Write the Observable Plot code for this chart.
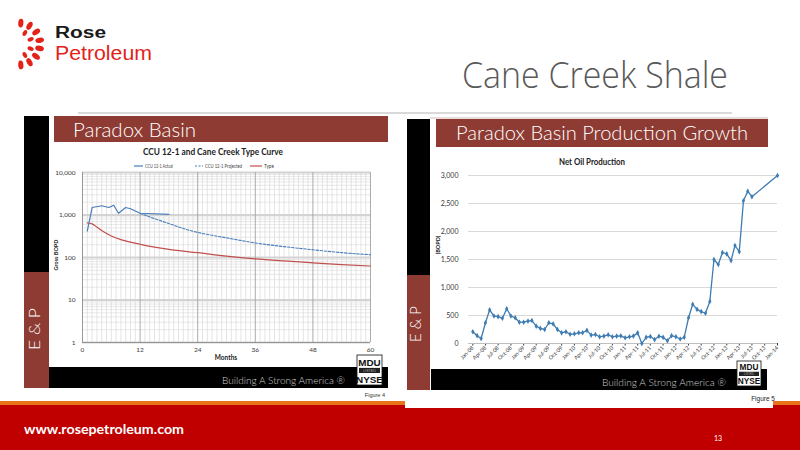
<!DOCTYPE html>
<html>
<head>
<meta charset="utf-8">
<script src="https://cdn.jsdelivr.net/npm/d3@7"></script>
<script src="https://cdn.jsdelivr.net/npm/@observablehq/plot@0.6"></script>
<style>
html,body{margin:0;padding:0;background:#fff;}
#slide{position:relative;width:800px;height:450px;overflow:hidden;background:#fff;}
.chart{position:absolute;}
#overlay{position:absolute;left:0;top:0;z-index:5;pointer-events:none;}
</style>
</head>
<body>
<div id="slide">
  <div id="fig4" class="chart" style="left:48px;top:142px;"></div>
  <div id="fig5" class="chart" style="left:430px;top:150px;"></div>
</div>
<script>
// ---------- Figure 4: CCU 12-1 and Cane Creek Type Curve (Gross BOPD, log) ----------
const fig4Title = "CCU 12-1 and Cane Creek Type Curve";
const fig4Series = ["CCU 12-1 Actual", "CCU 12-1 Projected", "Type"];
const actualMonth = [1, 2, 4, 5.5, 6.5, 7.5, 9, 10, 12, 18];
const actualBopd  = [420, 1500, 1650, 1500, 1700, 1100, 1500, 1400, 1100, 1040];
const projectedMonth = [12, 15, 18, 21, 24, 30, 36, 42, 48, 54, 60];
const projectedBopd  = [1100, 820, 630, 480, 390, 290, 220, 180, 152, 130, 116];
const typeMonth = [1, 2, 3, 4.5, 6, 8, 10, 12, 15, 18, 24, 30, 36, 42, 48, 54, 60];
const typeBopd  = [650, 620, 520, 400, 322, 264, 230, 205, 175, 155, 130, 108, 93, 83, 75, 68, 63];
const fig4MonthTicks = [0, 12, 24, 36, 48, 60];
const fig4BopdTicks = [1, 10, 100, 1000, 10000];

// ---------- Figure 5: Net Oil Production (BOPD), monthly from Jan-08 ----------
const fig5Title = "Net Oil Production";
const prodStart = "2008-01-01";
const prodBopd = [
  210, 140, 90, 370, 600, 490, 480, 450, 620, 490, 460, 380,
  380, 400, 410, 310, 270, 250, 370, 350, 250, 190, 210, 165,
  173, 191, 191, 235, 150, 160, 120, 132, 155, 120, 132, 137,
  102, 120, 132, 190, 0, 110, 125, 70, 130, 110, 50, 140,
  120, 80, 110, 460, 700, 610, 570, 540, 750, 1500, 1410, 1625,
  1600, 1480, 1750, 1640, 2550, 2720, 2620
];
const prodLastDate = "2014-01-01";
const prodLastBopd = 3000;
const prodTickLabels = [
  "Jan-08","Apr-08","Jul-08","Oct-08","Jan-09","Apr-09","Jul-09","Oct-09",
  "Jan-10","Apr-10","Jul-10","Oct-10","Jan-11","Apr-11","Jul-11","Oct-11",
  "Jan-12","Apr-12","Jul-12","Oct-12","Jan-13","Apr-13","Jul-13","Oct-13","Jan-14"
];
const prodYTicks = [0, 500, 1000, 1500, 2000, 2500, 3000];

// ---------- build Figure 4 ----------
const fontChart = "Lato, 'Open Sans', 'Liberation Sans', sans-serif";
const actual = actualMonth.map((m, i) => ({m, v: actualBopd[i]}));
const projected = projectedMonth.map((m, i) => ({m, v: projectedBopd[i]}));
const typeCurve = typeMonth.map((m, i) => ({m, v: typeBopd[i]}));
const minorMonths = d3.range(1, 60).filter(m => m % 12 !== 0);
const minorBopd = fig4BopdTicks.slice(0, -1).flatMap(d => d3.range(2, 10).map(k => d * k));

const fig4 = Plot.plot({
  width: 340, height: 226,
  marginLeft: 34, marginRight: 18, marginTop: 30, marginBottom: 26,
  style: {background: "transparent", fontFamily: fontChart, fontSize: "6.5px", color: "#3a3a3a", overflow: "visible"},
  x: {domain: [0, 60], ticks: fig4MonthTicks, tickSize: 0, tickPadding: 5, label: null},
  y: {type: "log", domain: [1, 10000], ticks: fig4BopdTicks, tickFormat: d3.format(","), tickSize: 0, tickPadding: 7, label: null},
  marks: [
    Plot.ruleY(minorBopd, {stroke: "#e2e2e2", strokeWidth: 0.8}),
    Plot.ruleX(minorMonths, {stroke: "#d8d8d8", strokeWidth: 0.7}),
    Plot.ruleY(fig4BopdTicks, {stroke: "#d3d3d3", strokeWidth: 2}),
    Plot.ruleX(fig4MonthTicks.slice(1), {stroke: "#a3a3a3", strokeWidth: 0.9}),
    Plot.ruleX([0], {stroke: "#8c8c8c", strokeWidth: 0.9}),
    Plot.ruleY([1], {stroke: "#8c8c8c", strokeWidth: 0.9}),
    Plot.line(typeCurve, {x: "m", y: "v", stroke: "#C0504D", strokeWidth: 1.2, curve: "monotone-x"}),
    Plot.line(projected, {x: "m", y: "v", stroke: "#4A7EBB", strokeWidth: 1.1, strokeDasharray: "2.5,1.6", curve: "monotone-x"}),
    Plot.line(actual, {x: "m", y: "v", stroke: "#4A7EBB", strokeWidth: 1.2})
  ]
});
document.getElementById("fig4").appendChild(fig4);

// ---------- build Figure 5 ----------
const parseTick = d3.utcParse("%b-%y");
const start = new Date(prodStart);
const prod = prodBopd.map((v, i) => ({date: d3.utcMonth.offset(start, i), bopd: v}));
prod.push({date: new Date(prodLastDate), bopd: prodLastBopd});

const fig5 = Plot.plot({
  width: 360, height: 220,
  marginLeft: 38, marginRight: 13, marginTop: 25, marginBottom: 27,
  style: {background: "transparent", fontFamily: fontChart, fontSize: "5.4px", color: "#3a3a3a", overflow: "visible"},
  x: {type: "utc", domain: [new Date("2007-12-01"), new Date("2014-01-01")],
      ticks: prodTickLabels.map(parseTick), tickFormat: d3.utcFormat("%b-%y"),
      tickRotate: -45, tickSize: 2.5, tickPadding: 1, label: null},
  y: {domain: [0, 3000], ticks: prodYTicks, tickFormat: d3.format(","), tickSize: 0, tickPadding: 10, label: null},
  marks: [
    Plot.ruleY(prodYTicks.slice(1), {stroke: "#d9d9d9", strokeWidth: 1.2}),
    Plot.ruleY([0], {stroke: "#bfbfbf", strokeWidth: 1}),
    Plot.line(prod, {x: "date", y: "bopd", stroke: "#3E7CB1", strokeWidth: 1.3}),
    Plot.dot(prod, {x: "date", y: "bopd", symbol: "diamond", r: 1.7, fill: "#3E7CB1", stroke: "none"})
  ]
});
document.getElementById("fig5").appendChild(fig5);
d3.select(fig5).selectAll('[aria-label^="y-axis"] text').style("font-size", "7px");

// ---------- slide decoration overlay ----------
const red = "#E2231A", brown = "#8E3B34";
const o = [];
// logo petals
const petal = (cx, cy, ang, rx, ry) =>
  `<ellipse cx="${cx}" cy="${cy}" rx="${rx}" ry="${ry}" fill="${red}" transform="rotate(${ang} ${cx} ${cy})"/>`;
[-85, -60, -35, -10, 12, 36, 60, 85].forEach(a => {
  const r = a * Math.PI / 180;
  o.push(petal(19 + 21 * Math.cos(r), 44 + 21 * Math.sin(r), a, 4.4, 2.6));
});
[-62, -22, 22, 62].forEach(a => {
  const r = a * Math.PI / 180;
  o.push(petal(19 + 12.5 * Math.cos(r), 44 + 12.5 * Math.sin(r), a, 3.2, 2.0));
});
o.push(`<text x="55" y="38" font-family="'Liberation Sans',Arial,sans-serif" font-weight="900" font-size="16" fill="#1a1a1a" textLength="51" lengthAdjust="spacingAndGlyphs">Rose</text>`);
o.push(`<text x="55" y="60" font-family="'Liberation Sans',Arial,sans-serif" font-size="19.5" fill="${red}" textLength="97" lengthAdjust="spacingAndGlyphs">Petroleum</text>`);
// slide title
o.push(`<text x="462" y="88" font-family="'Open Sans',Lato,sans-serif" font-weight="300" font-size="37" fill="#595959" textLength="266" lengthAdjust="spacingAndGlyphs">Cane Creek Shale</text>`);
o.push(`<line x1="78" x2="732" y1="113" y2="113" stroke="#d9d9d9" stroke-width="2"/>`);

function mdu(x, y, w, h) {
  return `<rect x="${x}" y="${y}" width="${w}" height="${h}" fill="#fff" stroke="#111" stroke-width="0.8"/>
  <text x="${x + w / 2}" y="${y + h * 0.36}" text-anchor="middle" font-family="'Liberation Sans',Arial" font-weight="bold" font-size="${h * 0.33}" fill="#111">MDU</text>
  <rect x="${x + 2}" y="${y + h * 0.43}" width="${w - 4}" height="${h * 0.17}" fill="#222"/>
  <text x="${x + w / 2}" y="${y + h * 0.56}" text-anchor="middle" font-family="'Liberation Sans',Arial" font-size="${h * 0.12}" fill="#aaa">LISTED</text>
  <text x="${x + w / 2}" y="${y + h * 0.92}" text-anchor="middle" font-family="'Liberation Sans',Arial" font-weight="bold" font-size="${h * 0.33}" fill="#111">NYSE</text>`;
}
const gothic = "Lato, 'Open Sans', sans-serif";

// left panel frame
o.push(`<rect x="24" y="116" width="25" height="156" fill="#000"/>`);
o.push(`<rect x="24" y="272" width="25" height="116" fill="${brown}"/>`);
o.push(`<text transform="translate(40,329) rotate(-90)" text-anchor="middle" font-family="${gothic}" font-weight="300" font-size="16" fill="#fff" textLength="42" lengthAdjust="spacingAndGlyphs">E &amp; P</text>`);
o.push(`<rect x="54" y="116" width="334" height="26" fill="${brown}"/>`);
o.push(`<text x="73" y="137" font-family="${gothic}" font-weight="300" font-size="20" fill="#fff" textLength="123" lengthAdjust="spacingAndGlyphs">Paradox Basin</text>`);
o.push(`<rect x="49" y="367" width="339" height="21" fill="#000"/>`);
o.push(`<text x="222" y="384" font-family="${gothic}" font-weight="300" font-size="10.5" fill="#cfcfcf" textLength="123" lengthAdjust="spacingAndGlyphs">Building A Strong America ®</text>`);
o.push(mdu(357, 355, 25, 30));
o.push(`<text x="385" y="397" text-anchor="end" font-family="'Liberation Sans',Arial" font-size="5.5" fill="#333">Figure 4</text>`);
// fig4 title / legend / axis titles
o.push(`<text x="213" y="155" text-anchor="middle" font-family="${fontChart}" font-weight="bold" font-size="8.5" fill="#222" textLength="140" lengthAdjust="spacingAndGlyphs">${fig4Title}</text>`);
o.push(`<line x1="134" x2="143" y1="166" y2="166" stroke="#4A7EBB" stroke-width="1.2"/>`);
o.push(`<text x="145" y="168" font-family="${fontChart}" font-size="5.5" fill="#444" textLength="28" lengthAdjust="spacingAndGlyphs">${fig4Series[0]}</text>`);
o.push(`<line x1="195" x2="203" y1="166" y2="166" stroke="#4A7EBB" stroke-width="1.1" stroke-dasharray="2,1.5"/>`);
o.push(`<text x="205" y="168" font-family="${fontChart}" font-size="5.5" fill="#444" textLength="37" lengthAdjust="spacingAndGlyphs">${fig4Series[1]}</text>`);
o.push(`<line x1="250" x2="262" y1="166" y2="166" stroke="#C0504D" stroke-width="1.2"/>`);
o.push(`<text x="264" y="168" font-family="${fontChart}" font-size="5.5" fill="#444" textLength="10" lengthAdjust="spacingAndGlyphs">${fig4Series[2]}</text>`);
o.push(`<text x="226" y="360" text-anchor="middle" font-family="${fontChart}" font-weight="bold" font-size="6.5" fill="#222">Months</text>`);
o.push(`<text transform="translate(58,255) rotate(-90)" text-anchor="middle" font-family="${fontChart}" font-weight="bold" font-size="5.5" fill="#222">Gross BOPD</text>`);

// right panel frame
o.push(`<line x1="430" x2="768" y1="118" y2="118" stroke="#c8a8a4" stroke-width="0.8"/>`);
o.push(`<rect x="407" y="119" width="23" height="156" fill="#000"/>`);
o.push(`<rect x="407" y="275" width="23" height="115" fill="${brown}"/>`);
o.push(`<text transform="translate(421,324) rotate(-90)" text-anchor="middle" font-family="${gothic}" font-weight="300" font-size="16" fill="#fff" textLength="36" lengthAdjust="spacingAndGlyphs">E &amp; P</text>`);
o.push(`<rect x="436" y="119" width="332" height="28" fill="${brown}"/>`);
o.push(`<text x="456" y="140" font-family="${gothic}" font-weight="300" font-size="20" fill="#fff" textLength="292" lengthAdjust="spacingAndGlyphs">Paradox Basin Production Growth</text>`);
o.push(`<text x="592" y="165" text-anchor="middle" font-family="${fontChart}" font-weight="bold" font-size="8.5" fill="#222" textLength="66" lengthAdjust="spacingAndGlyphs">${fig5Title}</text>`);
o.push(`<text transform="translate(440,245) rotate(-90)" text-anchor="middle" font-family="${fontChart}" font-weight="bold" font-size="5.5" fill="#222">(BOPD)</text>`);
o.push(`<rect x="431" y="369" width="336" height="21" fill="#000"/>`);
o.push(`<text x="602" y="386" font-family="${gothic}" font-weight="300" font-size="10.5" fill="#cfcfcf" textLength="124" lengthAdjust="spacingAndGlyphs">Building A Strong America ®</text>`);
o.push(mdu(737, 361, 24, 25));

// bottom band
o.push(`<rect x="0" y="401" width="800" height="4" fill="#E8751A"/>`);
o.push(`<rect x="0" y="405" width="800" height="45" fill="#C00000"/>`);
o.push(`<rect x="405" y="398" width="368" height="10" fill="#fff"/>`);
o.push(`<text x="775" y="401" text-anchor="end" font-family="'Liberation Sans',Arial" font-size="6.5" fill="#222">Figure 5</text>`);
o.push(`<text x="24" y="434" font-family="${fontChart}" font-weight="bold" font-size="14" fill="#fff" textLength="160" lengthAdjust="spacingAndGlyphs">www.rosepetroleum.com</text>`);
o.push(`<text x="714" y="441" font-family="${fontChart}" font-size="7" fill="#fff">13</text>`);

const ov = `<svg id="overlay" width="800" height="450" viewBox="0 0 800 450" xmlns="http://www.w3.org/2000/svg">${o.join("")}</svg>`;
document.getElementById("slide").insertAdjacentHTML("beforeend", ov);
</script>
</body>
</html>
